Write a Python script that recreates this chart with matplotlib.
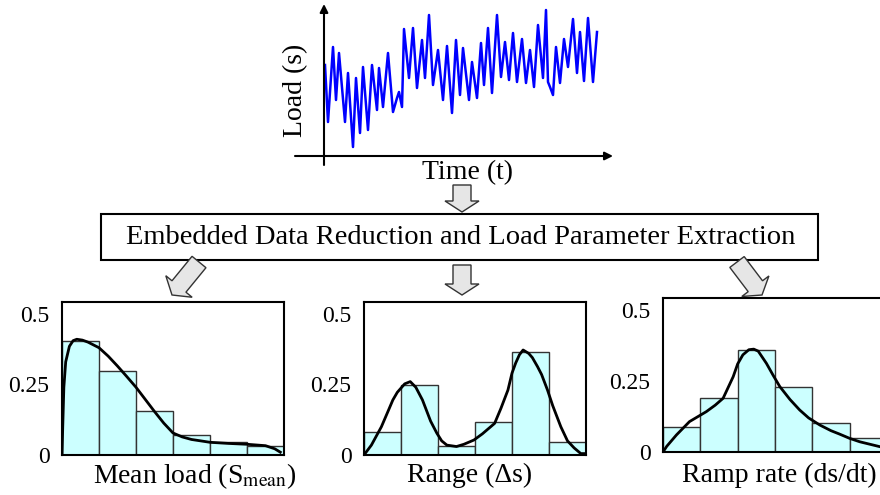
import numpy as np
import matplotlib
matplotlib.use("Agg")
from matplotlib import pyplot as plt
from matplotlib.patches import Rectangle, FancyArrow

plt.rcParams['font.family'] = ['Liberation Serif', 'DejaVu Serif']
plt.rcParams['mathtext.fontset'] = 'stix'

# 载荷时间历程
sig_t = [0, 3, 8, 11, 14, 20, 23, 28, 31, 35, 38, 43, 47, 52, 54, 58, 63, 68, 72, 74,
         77, 79, 84, 88, 92, 97, 100, 104, 108, 113, 118, 122, 127, 131, 135, 138, 144,
         147, 152, 156, 159, 163, 167, 172, 176, 180, 184, 188, 192, 197, 201, 205, 209,
         213, 218, 221, 223, 225, 228, 231, 235, 239, 243, 248, 252, 255, 259, 263, 268, 272]
sig_load = [91, 34, 109, 56, 103, 34, 83, 9, 78, 23, 89, 26, 91, 46, 88, 49, 103, 44, 58, 64,
            49, 127, 78, 128, 68, 116, 78, 141, 71, 106, 56, 110, 43, 116, 61, 108, 56,
            94, 58, 113, 71, 128, 63, 141, 79, 114, 76, 123, 74, 117, 73, 106, 69,
            131, 78, 146, 74, 69, 61, 109, 73, 117, 89, 137, 83, 124, 75, 138, 74, 124]

# 直方图 (6 个区间)
mean_hist = [0.404, 0.298, 0.156, 0.071, 0.046, 0.032]
range_hist = [0.082, 0.248, 0.032, 0.117, 0.365, 0.046]
ramp_hist = [0.089, 0.191, 0.359, 0.228, 0.101, 0.048]

# 拟合曲线
mean_cx = [0.0, 0.02, 0.05, 0.1, 0.2, 0.3, 0.4, 0.55, 0.7, 0.85, 1.0, 1.25, 1.5, 1.75, 2.0,
           2.25, 2.5, 2.75, 3.0, 3.25, 3.5, 4.0, 4.5, 5.0, 5.5, 5.75, 5.9]
mean_cy = [0.0, 0.1, 0.24, 0.33, 0.385, 0.405, 0.41, 0.407, 0.40, 0.39, 0.38, 0.35, 0.315,
           0.278, 0.24, 0.197, 0.154, 0.113, 0.078, 0.064, 0.055, 0.045, 0.041, 0.038,
           0.033, 0.022, 0.01]
range_cx = [0, 0.2, 0.47, 0.65, 0.78, 0.9, 1.0, 1.1, 1.25, 1.4, 1.58, 1.8, 1.97, 2.1, 2.24,
            2.5, 2.7, 2.97, 3.2, 3.53, 3.7, 3.89, 4.0, 4.1, 4.2, 4.3, 4.45, 4.55, 4.69, 4.8,
            4.96, 5.1, 5.32, 5.5, 5.68, 5.86, 6.0]
range_cy = [0.0, 0.035, 0.10, 0.155, 0.195, 0.222, 0.237, 0.252, 0.26, 0.24, 0.195, 0.12,
            0.077, 0.05, 0.035, 0.03, 0.038, 0.053, 0.075, 0.112, 0.165, 0.23, 0.29, 0.326,
            0.355, 0.372, 0.36, 0.345, 0.313, 0.285, 0.23, 0.175, 0.10, 0.05, 0.025, 0.005,
            0.005]
ramp_cx = [0, 0.1, 0.36, 0.71, 1.16, 1.4, 1.61, 1.88, 2.0, 2.14, 2.3, 2.43, 2.55, 2.77,
           2.95, 3.13, 3.4, 3.66, 3.9, 4.2, 4.5, 4.73, 5.0, 5.27, 5.8]
ramp_cy = [0, 0.02, 0.06, 0.107, 0.142, 0.165, 0.189, 0.265, 0.31, 0.342, 0.36, 0.362,
           0.355, 0.312, 0.27, 0.23, 0.185, 0.148, 0.12, 0.095, 0.075, 0.063, 0.048, 0.036,
           0.019]

yticks = [0, 0.25, 0.5]
ytick_labels = ['0', '0.25', '0.5']

W, H = 880, 495
fig = plt.figure(figsize=(8.8, 4.95), dpi=100)


def px_axes(l, t, r, b):
    return fig.add_axes([l / W, 1 - b / H, (r - l) / W, (b - t) / H])


# 顶部: 载荷信号
ax0 = px_axes(295, 0, 615, 170)
ax0.plot(sig_t, sig_load, color='#0000ff', lw=1.8)
ax0.set_xlim(-30, 290)
ax0.set_ylim(-14, 156)
ax0.axis('off')
arrow_kw = dict(arrowstyle='-|>', color='black', lw=1.5, mutation_scale=12, shrinkA=0, shrinkB=0)
ax0.annotate('', xy=(-1, 152), xytext=(-1, -9), arrowprops=arrow_kw, annotation_clip=False)
ax0.annotate('', xy=(288, 0), xytext=(-30, 0), arrowprops=arrow_kw, annotation_clip=False)

# 底部三个直方图
panels = [
    ((62, 302, 284, 455), mean_hist, mean_cx, mean_cy),
    ((364, 302, 586, 455), range_hist, range_cx, range_cy),
    ((663, 298, 887, 452), ramp_hist, ramp_cx, ramp_cy),
]
for box, hist, cx, cy in panels:
    ax = px_axes(*box)
    ax.bar(np.arange(len(hist)), hist, width=1.0, align='edge',
           color='#ccffff', edgecolor='#333333', linewidth=1.0)
    ax.plot(cx, cy, color='black', lw=2, solid_joinstyle='round')
    ax.set_xlim(0, 6)
    ax.set_ylim(0, 0.542)
    ax.set_xticks([])
    ax.set_yticks(yticks)
    ax.set_yticklabels(ytick_labels, fontsize=17)
    ax.tick_params(length=0, pad=9)
    for s in ax.spines.values():
        s.set_linewidth(1.5)
        s.set_color('black')

# 覆盖层: 文本框与箭头
ov = fig.add_axes([0, 0, 1, 1])
ov.set_xlim(0, W)
ov.set_ylim(H, 0)
ov.axis('off')
ov.patch.set_alpha(0)

ov.text(296, 90, 'Load (s)', rotation=90, fontsize=20, ha='center', va='center')
ov.text(468, 173, 'Time (t)', fontsize=20, ha='center', va='center')

ov.add_patch(Rectangle((101, 214), 717, 46, facecolor='white', edgecolor='black', lw=1.5))
ov.text(461, 238, 'Embedded Data Reduction and Load Parameter Extraction',
        fontsize=20.5, ha='center', va='center')

arr_style = dict(width=18, head_width=34, head_length=11, length_includes_head=True,
                 facecolor='#e6e6e6', edgecolor='#333333', lw=1.0)
ov.add_patch(FancyArrow(462, 185, 0, 27, **arr_style))
ov.add_patch(FancyArrow(462, 265, 0, 30, **arr_style))
ov.add_patch(FancyArrow(199, 262, -27, 33, **arr_style))
ov.add_patch(FancyArrow(737, 262, 25, 33, **arr_style))

ov.text(195, 476, r'Mean load (S$_{\mathrm{mean}}$)', fontsize=20, ha='center', va='center')
ov.text(470, 475, 'Range (\u0394s)', fontsize=20, ha='center', va='center')
ov.text(779, 475, 'Ramp rate (ds/dt)', fontsize=20, ha='center', va='center')

plt.savefig('out.png', dpi=100)
